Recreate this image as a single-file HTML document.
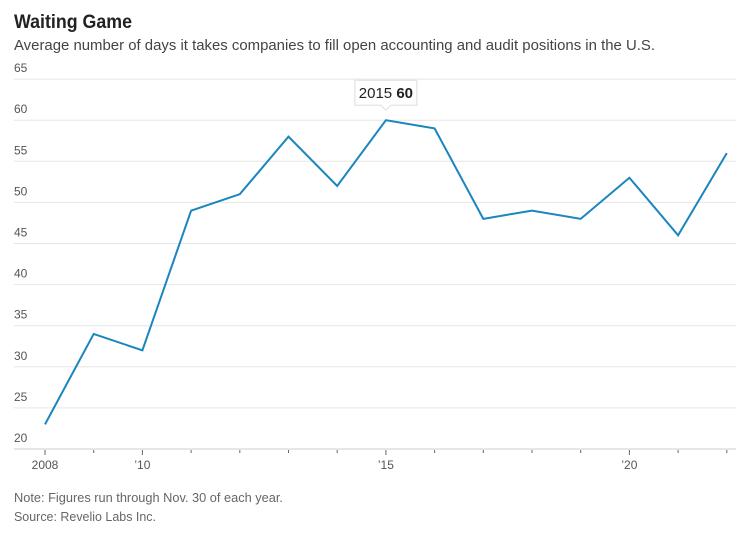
<!DOCTYPE html>
<html><head><meta charset="utf-8"><style>
body{margin:0;width:750px;height:533px;background:#fff;font-family:"Liberation Sans",sans-serif;overflow:hidden}
</style></head><body>
<svg width="750" height="533">
<text x="14" y="28" font-size="19" font-weight="bold" fill="#222" textLength="118" lengthAdjust="spacingAndGlyphs">Waiting Game</text>
<text x="14" y="50" font-size="14.5" fill="#444" textLength="641" lengthAdjust="spacingAndGlyphs">Average number of days it takes companies to fill open accounting and audit positions in the U.S.</text>
<g id="grid"></g><g id="xaxis"></g>
<path id="line" fill="none" stroke="#1a85bf" stroke-width="2"/>
<g id="tip"></g>
<text x="14" y="502" font-size="12.5" fill="#666" textLength="269" lengthAdjust="spacingAndGlyphs">Note: Figures run through Nov. 30 of each year.</text>
<text x="14" y="521" font-size="12.5" fill="#666" textLength="142" lengthAdjust="spacingAndGlyphs">Source: Revelio Labs Inc.</text>
</svg>
<script>
const years=[2008,2009,2010,2011,2012,2013,2014,2015,2016,2017,2018,2019,2020,2021,2022];
const values=[23,34,32,49,51,58,52,60,59,48,49,48,53,46,56];
const yTicks=[20,25,30,35,40,45,50,55,60,65];
const xLabelYears=[2008,2010,2015,2020];
const xLabelText=["2008","\u201910","\u201915","\u201920"];
const NS="http://www.w3.org/2000/svg";
const x=v=>45+(v-2008)*48.7;
const y=v=>449-(v-20)*8.22;
function mk(t,a,p){const e=document.createElementNS(NS,t);for(const k in a)e.setAttribute(k,a[k]);p.appendChild(e);return e;}
const g=document.getElementById('grid');
yTicks.forEach(t=>{
 const l=mk('line',{x1:14,x2:736,y1:y(t),y2:y(t),stroke:t===20?'#ccc':'#e6e6e6','stroke-width':1},g);
 
 
 const tx=mk('text',{x:14,y:y(t)-7,'font-size':12,fill:'#555'},g);tx.textContent=t;
 
 
});
const xa=document.getElementById('xaxis');
years.forEach(yr=>{
 const maj=xLabelYears.includes(yr);
 const tk=mk('line',{x1:x(yr),x2:x(yr),y1:450,y2:maj?455:453,stroke:'#666','stroke-width':1},xa);
 
 
});
xLabelYears.forEach((yr,i)=>{
 const t=mk('text',{x:x(yr),y:469,'font-size':12,fill:'#555','text-anchor':'middle'},xa);t.textContent=xLabelText[i];
 
 
});
document.getElementById('line').setAttribute('d',years.map((yr,i)=>(i?'L':'M')+x(yr)+','+y(values[i])).join(''));
const mi=values.indexOf(Math.max(...values));
const tp=document.getElementById('tip');const px=x(years[mi]),py=y(values[mi]);
mk('path',{d:`M${px-31},${py-40}h62v25h-26l-5,5l-5,-5h-26z`,fill:'#fff',stroke:'#ddd'},tp);
const tt=mk('text',{x:px,y:py-22,'font-size':15,fill:'#222','text-anchor':'middle'},tp);
tt.innerHTML=years[mi]+' <tspan font-weight="bold">'+values[mi]+'</tspan>';
</script>
</body></html>
